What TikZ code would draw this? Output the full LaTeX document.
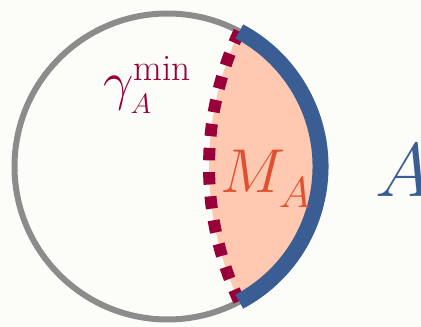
\documentclass[tikz,border=0pt]{standalone}
\usepackage{fix-cm}
\usepackage{amsmath}
\usepackage{graphicx}
\definecolor{bgc}{HTML}{FCFDF8}
\definecolor{circgray}{HTML}{8C8C8C}
\definecolor{regblue}{HTML}{3A5E93}
\definecolor{gamred}{HTML}{99003A}
\definecolor{peach}{HTML}{FFC8B0}
\definecolor{mred}{HTML}{E0502F}
\tikzset{
  circline/.style={draw=circgray,line width=6pt},
  bluearc/.style={draw=regblue,line width=16pt,line cap=butt},
  gamline/.style={draw=gamred,line width=12pt,dash pattern=on 12.4pt off 11.8pt,line cap=butt},
  lbl/.style={inner sep=0pt,anchor=base west}
}
\begin{document}
\begin{tikzpicture}[x=1pt,y=1pt]
\fill[bgc] (0,0) rectangle (421,327);
\useasboundingbox (0,0) rectangle (421,327);
\coordinate (c) at (167.5,160.5);
% region
\fill[peach] (c) ++(62:153) arc[start angle=154.72,end angle=205.28,radius=316.3]
  arc[start angle=-62,end angle=62,radius=153] -- cycle;
\draw[circline] (c) circle[radius=153];
\draw[gamline] (c) ++(62:153) arc[start angle=154.72,end angle=205.28,radius=316.3];
\draw[bluearc] (c) ++(-62:153) arc[start angle=-62,end angle=62,radius=153];
\node[lbl,text=gamred] (gam) at (103,227) {\fontsize{54}{56}\selectfont$\gamma^{\hbox{\scalebox{1.5}{\fontsize{24.88}{25}\selectfont min}}}_{\hbox{\fontsize{28}{28}\selectfont$A$}}$};
\node[lbl,text=mred] (ma) at (220,134) {\fontsize{62}{64}\selectfont$M_{\lower5pt\hbox{$\scriptstyle A$}}$};
\node[lbl,text=regblue] (a) at (375,130) {\fontsize{76}{78}\selectfont$A$};
\end{tikzpicture}
\end{document}
